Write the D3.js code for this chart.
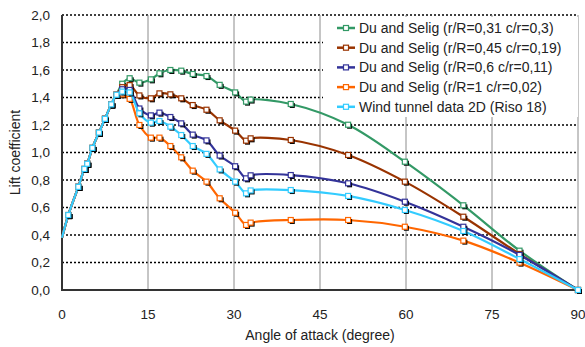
<!DOCTYPE html>
<html><head><meta charset="utf-8">
<script src="https://cdn.jsdelivr.net/npm/d3@7"></script>
<style>body{margin:0;background:#fff}svg{display:block;font-family:Arial,"Liberation Sans",sans-serif}</style>
</head><body><svg id="c" width="585" height="347"></svg>
<script>
// Shared rising part (all series coincide)
const riseX = [0, 1.1, 2.85, 3.9, 4.4, 5.3, 6.45, 7.5, 8.6, 9.5];
const riseY = [0.38, 0.545, 0.75, 0.88, 0.918, 1.033, 1.145, 1.245, 1.35, 1.42];
// After the peak
const postX = [10.5, 11.8, 13.5, 15.5, 17, 18.9, 20.8, 22.8, 25.2, 27.5, 30.2, 32.1, 32.9, 39.9, 49.9, 59.8, 70, 79.8, 90];
const green  = [1.50, 1.54, 1.508, 1.532, 1.576, 1.60, 1.595, 1.571, 1.556, 1.492, 1.437, 1.37, 1.385, 1.353, 1.202, 0.933, 0.616, 0.286, 0.0];
const brown  = [1.475, 1.49, 1.415, 1.394, 1.43, 1.423, 1.394, 1.345, 1.311, 1.234, 1.159, 1.086, 1.103, 1.091, 0.982, 0.788, 0.533, 0.262, 0.0];
const blue   = [1.46, 1.455, 1.32, 1.27, 1.29, 1.258, 1.212, 1.13, 1.088, 0.978, 0.9, 0.812, 0.834, 0.836, 0.776, 0.642, 0.46, 0.255, 0.0];
const orange = [1.423, 1.39, 1.2, 1.108, 1.108, 1.047, 0.965, 0.868, 0.788, 0.667, 0.562, 0.473, 0.49, 0.509, 0.509, 0.46, 0.359, 0.199, 0.0];
const cyan   = [1.443, 1.437, 1.285, 1.217, 1.229, 1.188, 1.127, 1.047, 0.99, 0.877, 0.788, 0.703, 0.724, 0.727, 0.684, 0.582, 0.429, 0.225, 0.0];

const seriesNames = [
  "Du and Selig (r/R=0,31 c/r=0,3)",
  "Du and Selig (r/R=0,45 c/r=0,19)",
  "Du and Selig (r/R=0,6 c/r=0,11)",
  "Du and Selig (r/R=1 c/r=0,02)",
  "Wind tunnel data 2D (Riso 18)"
];
const seriesValues = [green, brown, blue, orange, cyan];
const seriesColors = ["#339966", "#993300", "#333399", "#FF6600", "#33CCFF"];

const xTicks = [0, 15, 30, 45, 60, 75, 90];
const yTicks = [0, 0.2, 0.4, 0.6, 0.8, 1.0, 1.2, 1.4, 1.6, 1.8, 2.0];
const xTitle = "Angle of attack (degree)";
const yTitle = "Lift coefficient";

const svg = d3.select("#c");
const L = 62, R = 578, T = 15, B = 290;
const x = d3.scaleLinear().domain([0, 90]).range([L, R]);
const y = d3.scaleLinear().domain([0, 2]).range([B, T]);
const fmt = v => d3.format(".1f")(v).replace(".", ",");

// horizontal dotted gridlines
svg.append("g").selectAll("line").data(yTicks.filter(v => v > 0)).join("line")
  .attr("x1", L).attr("x2", R).attr("y1", d => y(d)).attr("y2", d => y(d))
  .attr("stroke", "#000").attr("stroke-width", 1.6).attr("stroke-dasharray", "2,2");
// vertical gridlines
svg.append("g").selectAll("line").data(xTicks.filter(v => v > 0)).join("line")
  .attr("x1", d => x(d)).attr("x2", d => x(d)).attr("y1", T).attr("y2", B)
  .attr("stroke", "#8c8c8c").attr("stroke-width", 1);

// legend background (covers gridlines)
const lg = svg.append("g");
lg.append("rect").attr("x", 323).attr("y", 17).attr("width", R - 323).attr("height", 100).attr("fill", "#fff");

// axes lines
svg.append("line").attr("x1", L).attr("x2", L).attr("y1", T).attr("y2", B + 1).attr("stroke", "#333").attr("stroke-width", 2);
svg.append("line").attr("x1", L - 1).attr("x2", R).attr("y1", B).attr("y2", B).attr("stroke", "#333").attr("stroke-width", 2);

// tick labels
svg.append("g").selectAll("text").data(yTicks).join("text")
  .attr("x", 50).attr("y", d => y(d)).attr("dy", "0.35em").attr("text-anchor", "end")
  .attr("font-size", 13.5).attr("fill", "#222").text(fmt);
svg.append("g").selectAll("text").data(xTicks).join("text")
  .attr("x", d => x(d)).attr("y", 319).attr("text-anchor", "middle")
  .attr("font-size", 13.5).attr("fill", "#222").text(d => d);
svg.append("text").attr("x", x(45)).attr("y", 340).attr("text-anchor", "middle")
  .attr("font-size", 14).attr("fill", "#222").text(xTitle);
svg.append("text").attr("transform", `translate(20,${(T + B) / 2}) rotate(-90)`)
  .attr("text-anchor", "middle").attr("font-size", 14).attr("fill", "#222").text(yTitle);

// series
const line = d3.line().x(d => x(d[0])).y(d => y(d[1])).curve(d3.curveCatmullRom.alpha(0.5));
const ms = 5;
seriesValues.forEach((vals, i) => {
  const pts = riseX.map((v, j) => [v, riseY[j]]).concat(postX.map((v, j) => [v, vals[j]]));
  const g = svg.append("g");
  g.append("path").attr("d", line(pts)).attr("fill", "none")
    .attr("stroke", seriesColors[i]).attr("stroke-width", 2.2);
  const mk = pts.filter(p => p[0] > 0);
  g.append("g").selectAll("rect").data(mk).join("rect")
    .attr("x", d => x(d[0]) - ms / 2 + 1.5).attr("y", d => y(d[1]) - ms / 2 + 1.5)
    .attr("width", ms).attr("height", ms).attr("fill", "#000");
  g.append("g").selectAll("rect").data(mk).join("rect")
    .attr("x", d => x(d[0]) - ms / 2).attr("y", d => y(d[1]) - ms / 2)
    .attr("width", ms).attr("height", ms).attr("fill", "#fff")
    .attr("stroke", seriesColors[i]).attr("stroke-width", 1.2);
});

// legend entries
seriesNames.forEach((name, i) => {
  const yy = 28 + i * 19.7;
  lg.append("line").attr("x1", 337).attr("x2", 355).attr("y1", yy).attr("y2", yy)
    .attr("stroke", seriesColors[i]).attr("stroke-width", 2.5);
  lg.append("rect").attr("x", 346 - ms / 2).attr("y", yy - ms / 2).attr("width", ms).attr("height", ms)
    .attr("fill", "#fff").attr("stroke", seriesColors[i]).attr("stroke-width", 1.2);
  lg.append("text").attr("x", 359).attr("y", yy).attr("dy", "0.35em")
    .attr("font-size", 14).attr("fill", "#222").text(name);
});
</script></body></html>
